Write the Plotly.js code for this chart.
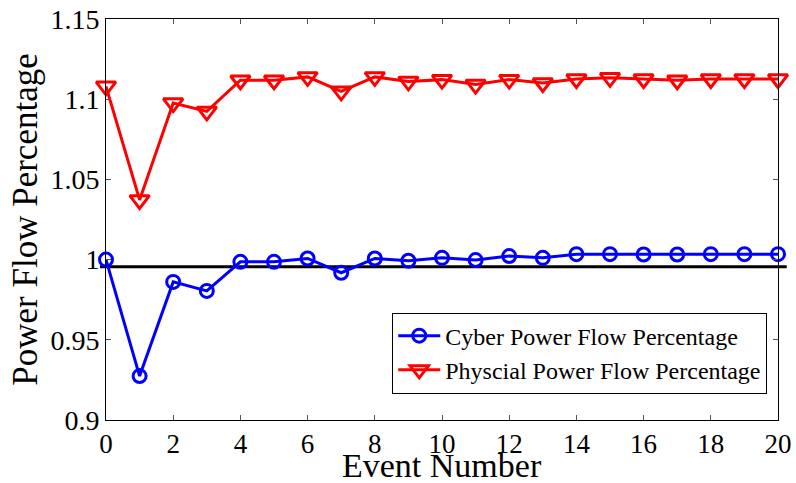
<!DOCTYPE html>
<html>
<head>
<meta charset="utf-8">
<script src="https://cdn.plot.ly/plotly-3.0.1.min.js"></script>
<style>html,body{margin:0;padding:0;background:#fff;}#chart{width:796px;height:483px;}</style>
</head>
<body>
<div id="chart"></div>
<script>
var eventNumbers = [0,1,2,3,4,5,6,7,8,9,10,11,12,13,14,15,16,17,18,19,20];
var cyberValues = [1.0000,0.9274,0.9861,0.9805,0.9986,0.9986,1.0007,0.9918,1.0007,0.9993,1.0011,0.9997,1.0022,1.0011,1.0034,1.0034,1.0032,1.0032,1.0034,1.0034,1.0034];
var physicalValues = [1.1080,1.0372,1.0976,1.0924,1.1118,1.1118,1.1139,1.1049,1.1139,1.1111,1.1122,1.1091,1.1122,1.1101,1.1126,1.1133,1.1126,1.1118,1.1126,1.1126,1.1126];
var referenceLevel = [0.9955];
var seriesNames = ["Cyber Power Flow Percentage","Physcial Power Flow Percentage"];
var xTickVals = [0,2,4,6,8,10,12,14,16,18,20];
var xTickText = ["0","2","4","6","8","10","12","14","16","18","20"];
var yTickVals = [0.9,0.95,1.0,1.05,1.1,1.15];
var yTickText = ["0.9","0.95","1","1.05","1.1","1.15"];
var xTitle = "Event Number";
var yTitle = "Power Flow Percentage";

var serif = "Liberation Serif";

var traces = [
  {
    x: eventNumbers, y: cyberValues, name: seriesNames[0],
    type: "scatter", mode: "lines+markers", cliponaxis: false,
    line: {color: "#0000ff", width: 3},
    marker: {symbol: "circle-open", size: 13, color: "#0000ff", line: {width: 3, color: "#0000ff"}}
  },
  {
    x: eventNumbers, y: physicalValues, name: seriesNames[1],
    type: "scatter", mode: "lines+markers", cliponaxis: false,
    line: {color: "#ff0000", width: 3},
    marker: {symbol: "triangle-down-open", size: 17, color: "#ff0000", line: {width: 3, color: "#ff0000"}}
  }
];

var layout = {
  width: 796, height: 483,
  margin: {l: 106, r: 18, t: 19, b: 63, pad: 0},
  paper_bgcolor: "#fff", plot_bgcolor: "#fff",
  font: {family: serif, size: 27, color: "#000"},
  showlegend: true,
  legend: {
    x: 0.984, xanchor: "right", y: 0.066, yanchor: "bottom",
    bordercolor: "#000", borderwidth: 1, bgcolor: "#fff",
    font: {family: serif, size: 24, color: "#000"},
    tracegroupgap: 0, itemwidth: 42
  },
  xaxis: {
    range: [0, 20], tickvals: xTickVals, ticktext: xTickText,
    ticks: "inside", ticklen: 5, tickwidth: 1, tickcolor: "#555",
    showline: true, linecolor: "#000", linewidth: 1, mirror: "ticks",
    showgrid: false, zeroline: false,
    tickfont: {family: serif, size: 27, color: "#000"}
  },
  yaxis: {
    range: [0.9, 1.15], tickvals: yTickVals, ticktext: yTickText,
    ticks: "inside", ticklen: 5, tickwidth: 1, tickcolor: "#555",
    showline: true, linecolor: "#000", linewidth: 1, mirror: "ticks",
    showgrid: false, zeroline: false,
    tickfont: {family: serif, size: 28, color: "#000"},
    title: {text: yTitle, font: {family: serif, size: 35, color: "#000"}, standoff: 2}
  },
  annotations: [
    {text: xTitle, xref: "paper", yref: "paper", x: 0.5, y: 0, xanchor: "center", yanchor: "top",
     yshift: -25, showarrow: false, font: {family: serif, size: 34, color: "#000"}}
  ],
  shapes: [
    {type: "line", xref: "paper", yref: "y", x0: -0.009, x1: 1.013,
     y0: referenceLevel[0], y1: referenceLevel[0], line: {color: "#000", width: 3}, layer: "below"}
  ]
};

Plotly.newPlot("chart", traces, layout, {displayModeBar: false, staticPlot: true});
</script>
</body>
</html>
